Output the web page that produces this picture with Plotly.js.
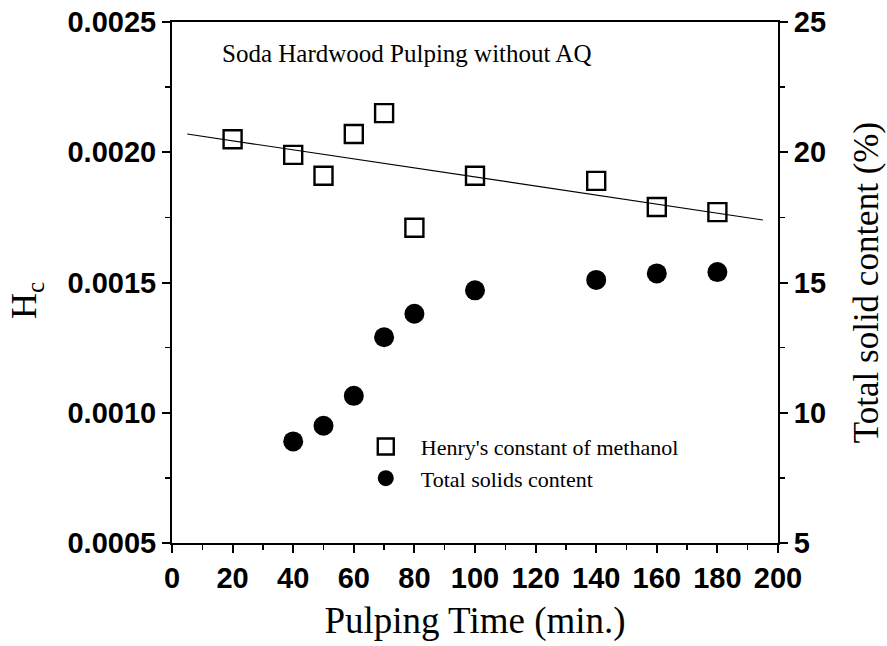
<!DOCTYPE html>
<html>
<head>
<meta charset="utf-8">
<script src="https://cdn.plot.ly/plotly-3.0.1.min.js"></script>
<style>html,body{margin:0;padding:0;background:#fff;}#chart{width:887px;height:646px;}</style>
</head>
<body>
<div id="chart"></div>
<script>
// Henry's constant (left axis)
var timeHc = [20, 40, 50, 60, 70, 80, 100, 140, 160, 180];
var henryHc = [0.00205, 0.00199, 0.00191, 0.00207, 0.00215, 0.00171, 0.00191, 0.00189, 0.00179, 0.00177];
// Total solids content (right axis, %)
var timeTs = [40, 50, 60, 70, 80, 100, 140, 160, 180];
var solids = [8.9, 9.5, 10.65, 12.9, 13.8, 14.7, 15.1, 15.35, 15.4];
// Linear trend of Hc
var fitX = [5, 195];
var fitY = [0.00207, 0.00174];

var serif = 'Times New Roman, Liberation Serif, serif';
var sans = 'Arial, Liberation Sans, sans-serif';

var traces = [
  {x: fitX, y: fitY, mode: 'lines', line: {color: '#000', width: 1.2}, showlegend: false, hoverinfo: 'skip'},
  {x: timeHc, y: henryHc, mode: 'markers', name: "Henry's constant of methanol",
   marker: {symbol: 'square-open', size: 18, color: '#000', line: {width: 2.4, color: '#000'}}},
  {x: timeTs, y: solids, mode: 'markers', name: 'Total solids content', yaxis: 'y2',
   marker: {symbol: 'circle', size: 20, color: '#000'}}
];

var layout = {
  width: 887, height: 646,
  margin: {l: 172, r: 109, t: 22, b: 103},
  paper_bgcolor: '#fff', plot_bgcolor: '#fff',
  showlegend: true,
  legend: {x: 0.295, y: 0.225, xanchor: 'left', yanchor: 'top', bgcolor: 'rgba(0,0,0,0)',
           font: {family: serif, size: 22, color: '#000'}, tracegroupgap: 0, itemsizing: 'trace', itemwidth: 60},
  xaxis: {
    range: [0, 200], dtick: 20, tick0: 0,
    showline: true, linecolor: '#000', linewidth: 2, mirror: true,
    ticks: 'outside', ticklen: 8, tickwidth: 2, tickcolor: '#000',
    minor: {dtick: 10, ticks: 'outside', ticklen: 5, tickwidth: 1.5, tickcolor: '#000'},
    showgrid: false, zeroline: false,
    tickfont: {family: sans, size: 29, color: '#000', weight: 'bold'},
    title: {text: 'Pulping Time (min.)', font: {family: serif, size: 37, color: '#000'}, standoff: 14}
  },
  yaxis: {
    range: [0.0005, 0.0025], dtick: 0.0005, tick0: 0.0005, tickformat: '.4f',
    showline: true, linecolor: '#000', linewidth: 2,
    ticks: 'outside', ticklen: 8, tickwidth: 2, tickcolor: '#000',
    minor: {dtick: 0.00025, ticks: 'outside', ticklen: 5, tickwidth: 1.5, tickcolor: '#000'},
    showgrid: false, zeroline: false,
    tickfont: {family: sans, size: 29, color: '#000', weight: 'bold'}
  },
  yaxis2: {
    range: [5, 25], dtick: 5, tick0: 5, overlaying: 'y', side: 'right',
    showline: true, linecolor: '#000', linewidth: 2,
    ticks: 'outside', ticklen: 8, tickwidth: 2, tickcolor: '#000',
    minor: {dtick: 2.5, ticks: 'outside', ticklen: 5, tickwidth: 1.5, tickcolor: '#000'},
    showgrid: false, zeroline: false,
    tickfont: {family: sans, size: 29, color: '#000', weight: 'bold'},
    title: {text: 'Total solid content (%)', font: {family: serif, size: 35, color: '#000'}, standoff: 28}
  },
  annotations: [
    {text: 'Soda Hardwood Pulping without AQ', xref: 'paper', yref: 'paper', x: 0.08, y: 0.94,
     xanchor: 'left', yanchor: 'middle', showarrow: false, font: {family: serif, size: 25, color: '#000'}},
    {text: 'H<sub>c</sub>', xref: 'paper', yref: 'paper', x: 0, xshift: -145, y: 0.4645,
     xanchor: 'center', yanchor: 'middle', textangle: -90, showarrow: false,
     font: {family: serif, size: 36, color: '#000'}}
  ]
};

Plotly.newPlot('chart', traces, layout, {displayModeBar: false, staticPlot: true});
</script>
</body>
</html>
